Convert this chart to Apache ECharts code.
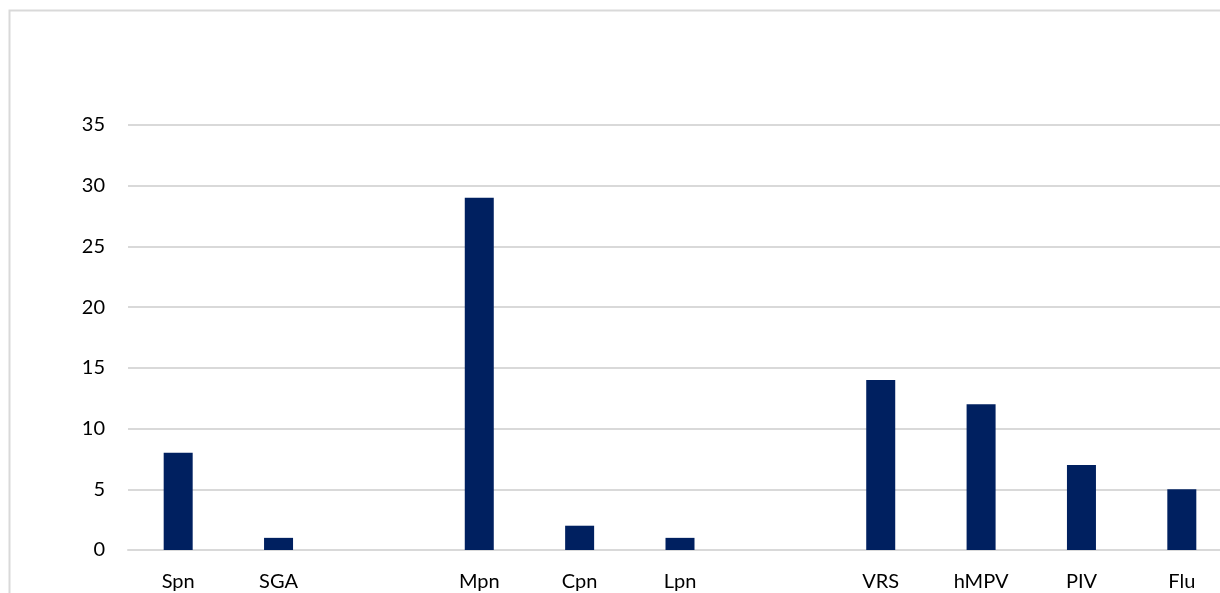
<!DOCTYPE html>
<html>
<head>
<meta charset="utf-8">
<style>
  html, body { margin: 0; padding: 0; background: #fff; overflow: hidden; width: 1220px; height: 593px; }
  #chart { width: 1250px; height: 620px; }
</style>
<script src="https://cdn.jsdelivr.net/npm/echarts@6/dist/echarts.min.js"></script>
</head>
<body>
<div id="chart"></div>
<script>
// Pathogen groups separated by blank slots on the category axis
const categories = ['Spn', 'SGA', '', 'Mpn', 'Cpn', 'Lpn', ' ', 'VRS', 'hMPV', 'PIV', 'Flu'];
const counts = [8, 1, null, 29, 2, 1, null, 14, 12, 7, 5];
const yTicks = { min: 0, max: 35, interval: 5 };

const chart = echarts.init(document.getElementById('chart'), null, { renderer: 'canvas' });

const fontFamily = 'Lato, "Open Sans", sans-serif';

chart.setOption({
  animation: false,
  backgroundColor: '#ffffff',
  graphic: [{
    type: 'rect',
    shape: { x: 9.5, y: 10.5, width: 1400, height: 800 },
    style: { fill: 'none', stroke: '#d9d9d9', lineWidth: 2 },
    silent: true
  }],
  grid: {
    left: 128,
    top: 125,
    width: 1104,
    height: 425,
    containLabel: false,
    outerBoundsMode: 'none'
  },
  xAxis: {
    type: 'category',
    data: categories,
    axisLine: { show: true, lineStyle: { color: '#d9d9d9', width: 2 } },
    axisTick: { show: false },
    axisLabel: {
      color: '#000000',
      fontFamily: fontFamily,
      fontSize: 20,
      margin: 22,
      interval: 0
    },
    splitLine: { show: false }
  },
  yAxis: {
    type: 'value',
    min: yTicks.min,
    max: yTicks.max,
    interval: yTicks.interval,
    axisLine: { show: false },
    axisTick: { show: false },
    axisLabel: {
      color: '#000000',
      fontFamily: fontFamily,
      fontSize: 20,
      margin: 23
    },
    splitLine: { show: true, lineStyle: { color: '#d9d9d9', width: 2 } }
  },
  series: [{
    type: 'bar',
    data: counts,
    barWidth: 29,
    itemStyle: { color: '#002060' }
  }]
});
</script>
</body>
</html>
